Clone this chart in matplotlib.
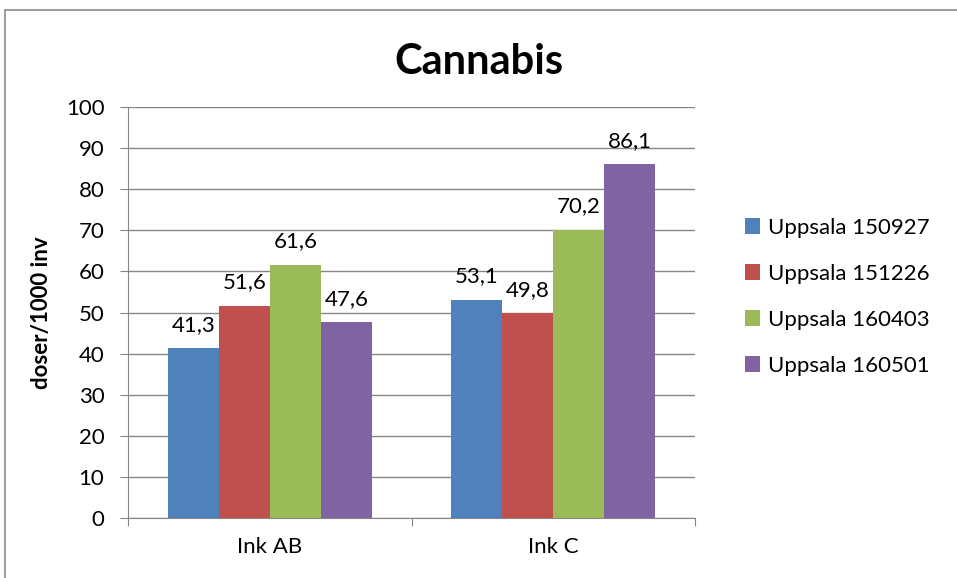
import matplotlib
matplotlib.use('Agg')
import matplotlib.pyplot as plt
from matplotlib.patches import Rectangle
import numpy as np

plt.rcParams['font.family'] = ['Lato', 'DejaVu Sans']

# data
categories = ['Ink AB', 'Ink C']
series = ['Uppsala 150927', 'Uppsala 151226', 'Uppsala 160403', 'Uppsala 160501']
values = {
    'Uppsala 150927': [41.3, 53.1],
    'Uppsala 151226': [51.6, 49.8],
    'Uppsala 160403': [61.6, 70.2],
    'Uppsala 160501': [47.6, 86.1],
}
colors = ['#4F81BD', '#C0504D', '#9BBB59', '#8064A2']

fs = 16

fig = plt.figure(figsize=(9.57, 5.78), dpi=100)
ax = fig.add_axes([0.1338, 0.1038, 0.5925, 0.711])

# outer chart border (cut off on right and bottom)
fig.patches.append(Rectangle((5 / 957, -0.05), 1.1, 1 - 10 / 578 + 0.05,
                             transform=fig.transFigure, fill=False,
                             edgecolor='#8c8c8c', linewidth=1.2))

w = 0.18
centers = np.arange(len(categories)) + 0.5
for i, (name, c) in enumerate(zip(series, colors)):
    xs = centers + (i - 1.5) * w
    bars = ax.bar(xs, values[name], width=w, color=c, label=name, zorder=3)
    for b, v in zip(bars, values[name]):
        ax.annotate(f'{v:.1f}'.replace('.', ','), (b.get_x() + b.get_width() / 2, v),
                    xytext=(0, 12.5), textcoords='offset points',
                    ha='center', va='baseline', fontsize=fs, color='black')

ax.set_xlim(0, 2)
ax.set_ylim(0, 100)
ax.set_yticks(range(0, 101, 10))
ax.yaxis.grid(True, color='#868686', linewidth=1, zorder=0)
ax.set_xticks([0, 1, 2])
ax.set_xticklabels([])
ax.set_xticks(centers, minor=True)
ax.set_xticklabels(categories, minor=True)
ax.tick_params(axis='x', which='major', length=6, direction='out', color='#868686')
ax.tick_params(axis='x', which='minor', length=0, pad=14, labelsize=fs)
ax.tick_params(axis='y', length=6, direction='out', color='#868686', labelsize=fs, pad=11)

for s in ['top', 'right']:
    ax.spines[s].set_visible(False)
ax.spines['left'].set_color('#868686')
ax.spines['bottom'].set_color('#868686')

ax.set_ylabel('doser/1000 inv', fontsize=fs, fontweight='bold', labelpad=10)
fig.text(0.5, 0.893, 'Cannabis', ha='center', va='center', fontsize=30, fontweight='bold')

ax.legend(loc='center left', bbox_to_anchor=(1.072, 0.538), frameon=False, fontsize=fs,
          borderaxespad=0, handlelength=0.7, handleheight=0.7, handletextpad=0.35,
          labelspacing=1.17)

fig.savefig('out.png', dpi=100)
